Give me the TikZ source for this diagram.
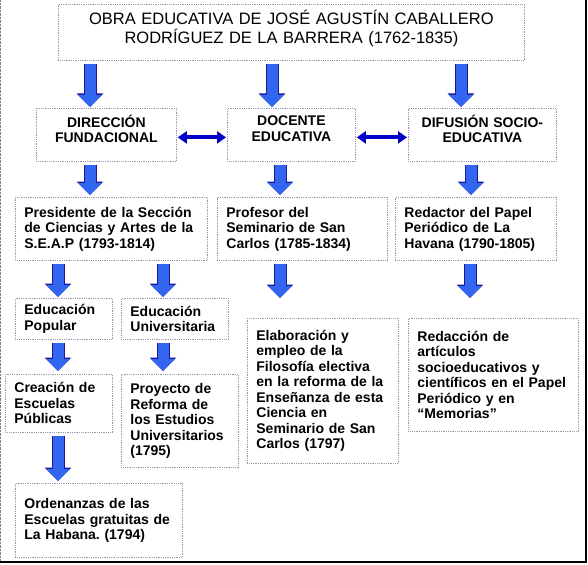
\documentclass[tikz,border=0pt]{standalone}
\usepackage{fontspec}
\setmainfont{Liberation Sans}
\usetikzlibrary{arrows.meta}
\frenchspacing

\definecolor{azulflecha}{RGB}{51,102,240}
\definecolor{bordeflecha}{RGB}{25,25,150}
\definecolor{azuldoble}{RGB}{0,0,200}
\definecolor{bordecaja}{RGB}{150,150,175}

\tikzset{
	caja/.style={draw=bordecaja, densely dotted, line width=0.8pt, anchor=north west,
		inner xsep=9pt, inner ysep=0pt, align=left,
		font=\bfseries\fontsize{14}{15.5}\selectfont},
	cajacentro/.style={caja, align=center, text depth=28pt},
	flecha/.style={azulflecha, line width=11pt, shorten <=3pt, shorten >=2pt,
		-{Triangle[width=23pt,length=12pt]},
		preaction={draw=bordeflecha, line width=13pt, -{Triangle[width=26pt,length=13.5pt]}}},
	dobleflecha/.style={azuldoble, line width=4pt, shorten <=1pt, shorten >=1pt,
		{Triangle[width=12pt,length=9pt]}-{Triangle[width=12pt,length=9pt]}}
}

\begin{document}
\begin{tikzpicture}[x=1pt, y=-1pt]
		\useasboundingbox (0,0) rectangle (588,564);
		% frame of the page
		\draw[gray, densely dotted] (0.5,0) -- (0.5,562);
		\draw[black, line width=1.5pt] (586,0) -- (586,562) -- (0,562);
		% title
		\node[caja, font=\fontsize{16.5}{19}\selectfont, align=center, text depth=31pt, text width=448pt, minimum height=56pt] (titulo) at (58,4)
			{OBRA EDUCATIVA DE JOSÉ AGUSTÍN CABALLERO\\RODRÍGUEZ DE LA BARRERA (1762-1835)};
		% three branches
		\node[cajacentro, text width=122pt, minimum height=53pt] (direccion) at (36,108) {DIRECCIÓN\\FUNDACIONAL};
		\node[cajacentro, text width=110pt, minimum height=53pt] (docente) at (227,108) {DOCENTE\\EDUCATIVA};
		\node[cajacentro, text width=130pt, minimum height=53pt] (difusion) at (408,108) {DIFUSIÓN SOCIO-\\EDUCATIVA};
		% offices
		\node[caja, text width=174pt, minimum height=63pt] (presidente) at (15,197)
			{Presidente de la Sección\\de Ciencias y Artes de la\\S.E.A.P (1793-1814)};
		\node[caja, text width=152pt, minimum height=63pt] (profesor) at (217,197)
			{Profesor del\\Seminario de San\\Carlos (1785-1834)};
		\node[caja, text width=143pt, minimum height=63pt] (redactor) at (395,197)
			{Redactor del Papel\\Periódico de La\\Havana (1790-1805)};
		% education
		\node[caja, text width=79pt, minimum height=41pt] (popular) at (15,298) {Educación\\Popular};
		\node[caja, text width=89pt, minimum height=41pt] (universitaria) at (121,298) {Educación\\Universitaria};
		\node[caja, text width=133pt, minimum height=145pt] (elaboracion) at (247,318)
			{Elaboración y\\empleo de la\\Filosofía electiva\\en la reforma de la\\Enseñanza de esta\\Ciencia en\\Seminario de San\\Carlos (1797)};
		\node[caja, text width=152pt, minimum height=113pt] (redaccion) at (408,318)
			{Redacción de\\artículos\\socioeducativos y\\científicos en el Papel\\Periódico y en\\“Memorias”};
		% results
		\node[caja, text width=89pt, minimum height=58pt] (creacion) at (5,374) {Creación de\\Escuelas\\Públicas};
		\node[caja, text width=99pt, minimum height=93pt] (proyecto) at (121,374)
			{Proyecto de\\Reforma de\\los Estudios\\Universitarios\\(1795)};
		\node[caja, text width=149pt, minimum height=74pt] (ordenanzas) at (15,483)
			{Ordenanzas de las\\Escuelas gratuitas de\\La Habana. (1794)};
		% block arrows
		\foreach \de/\a/\x/\hueco in {titulo/direccion/90/1, titulo/docente/272/1, titulo/difusion/461/1,
			direccion/presidente/90/2, docente/profesor/280/2, difusion/redactor/471/2,
			presidente/popular/58/1, presidente/universitaria/163/1,
			profesor/elaboracion/280/20, redactor/redaccion/470/20,
			popular/creacion/58/3, universitaria/proyecto/163/3, creacion/ordenanzas/58/2}
		{
			\coordinate (col) at (\x,0);
			\draw[flecha, shorten >=\hueco pt] (\de.south -| col) -- (\a.north -| col);
		}
		% links between branches
		\draw[dobleflecha] ([yshift=-2.5pt]direccion.east) -- ([yshift=-2.5pt]docente.west);
		\draw[dobleflecha] ([yshift=-2.5pt]docente.east) -- ([yshift=-2.5pt]difusion.west);
	\end{tikzpicture}
\end{document}
